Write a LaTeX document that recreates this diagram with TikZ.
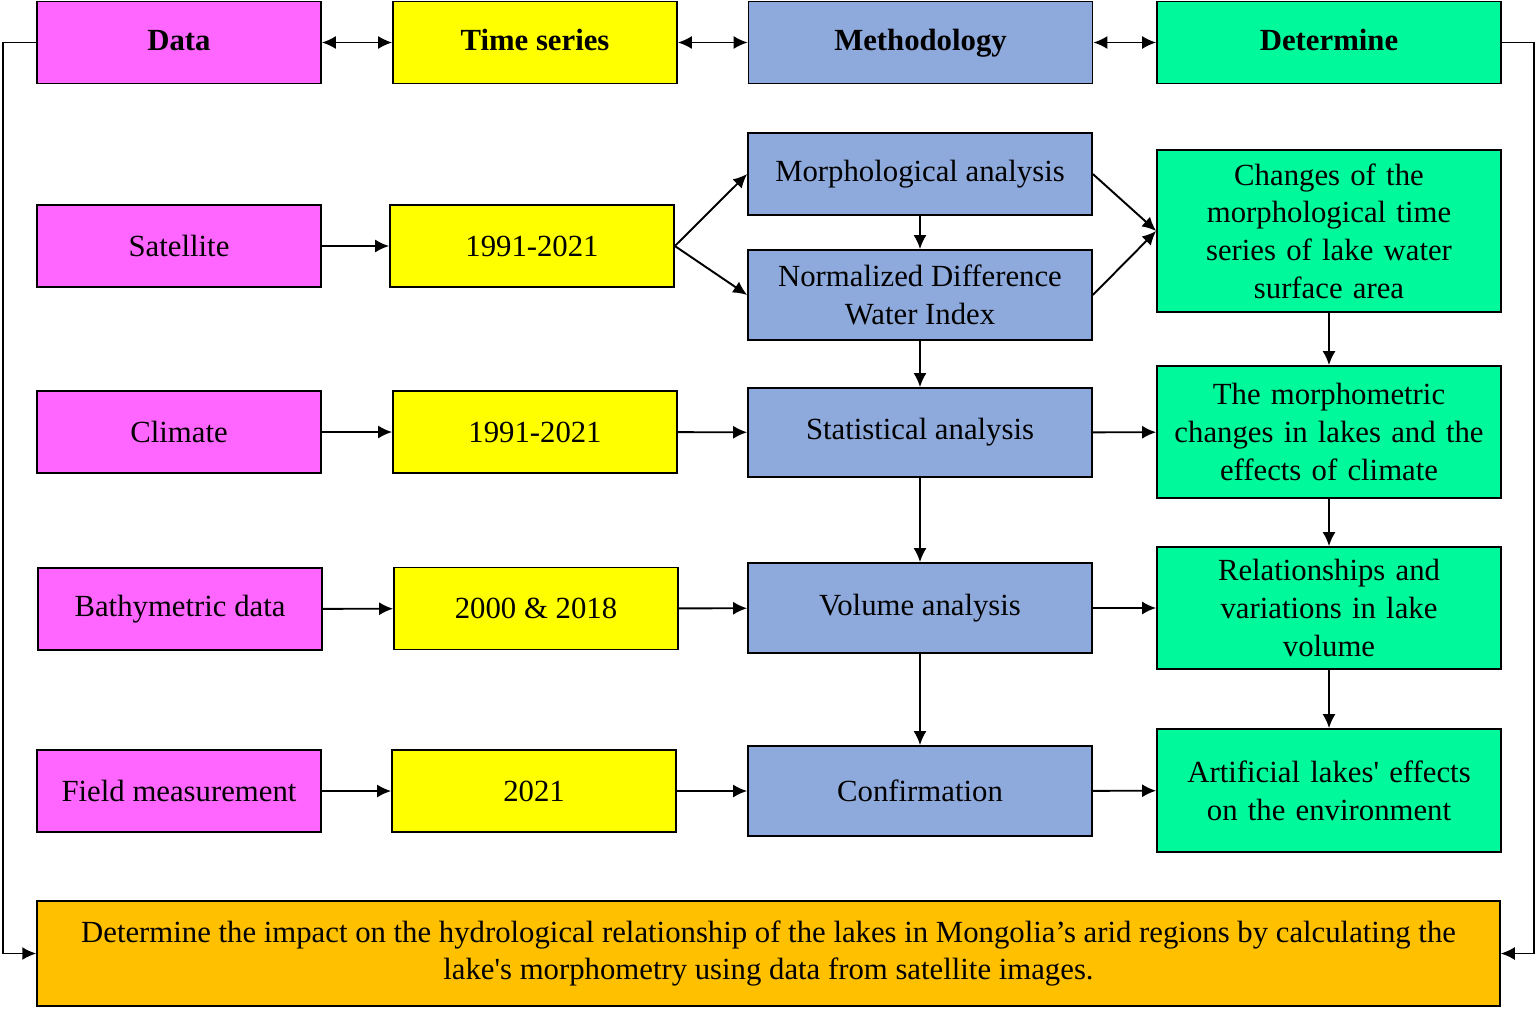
\documentclass[tikz,border=0pt]{standalone}
\usepackage{fontspec}
\setmainfont{Liberation Serif}
\usetikzlibrary{arrows.meta}

\definecolor{dataCol}{HTML}{FF66FF}
\definecolor{timeCol}{HTML}{FFFF00}
\definecolor{methCol}{HTML}{8EA9DB}
\definecolor{detCol}{HTML}{00F99B}
\definecolor{goalCol}{HTML}{FFC000}

\begin{document}
\begin{tikzpicture}[x=0.02cm, y=-0.02cm,
    box/.style={draw, line width=1pt, rectangle, inner sep=0pt, align=center,
        font=\fontsize{17.5}{21.5}\selectfont, minimum height=1.64cm},
    databox/.style={box, fill=dataCol, minimum width=5.68cm},
    timebox/.style={box, fill=timeCol, minimum width=5.68cm},
    methbox/.style={box, fill=methCol, minimum width=6.88cm},
    detbox/.style={box, fill=detCol, minimum width=6.88cm, text width=6.6cm},
    head/.style={font=\fontsize{17.5}{21.5}\selectfont\bfseries},
    arr/.style={-{Latex[length=2.8mm, width=2.6mm]}, line width=1.1pt},
    darr/.style={{Latex[length=2.8mm, width=2.6mm]}-{Latex[length=2.8mm, width=2.6mm]}, line width=1.1pt}
]
\useasboundingbox (0,0) rectangle (1537,1008);

% Header row
\node[databox, head] (Data) at (179,42.5) {\strut Data};
\node[timebox, head] (TimeSeries) at (535,42.5) {\strut Time series};
\node[methbox, head] (Methodology) at (920.5,42.5) {\strut Methodology};
\node[detbox, head] (Determine) at (1329,42.5) {\strut Determine};

% Satellite row
\node[databox] (Satellite) at (179,246) {Satellite};
\node[timebox] (SatYears) at (532,246) {1991-2021};
\node[methbox] (Morph) at (920,174) {Morphological analysis};
\node[methbox, minimum height=1.8cm] (NDWI) at (920,295) {Normalized Difference\\Water Index};
\node[detbox, minimum height=3.24cm] (Changes) at (1329,231) {Changes of the\\morphological time\\series of lake water\\surface area};

% Climate row
\node[databox] (Climate) at (179,432) {Climate};
\node[timebox] (ClimYears) at (535,432) {1991-2021};
\node[methbox, minimum height=1.78cm] (Stat) at (920,432.5) {Statistical analysis};
\node[detbox, minimum height=2.64cm] (Morphometric) at (1329,432) {The morphometric\\changes in lakes and the\\effects of climate};

% Bathymetric row
\node[databox] (Bathy) at (180,609) {Bathymetric data};
\node[timebox] (BathyYears) at (536,608.5) {2000 \& 2018};
\node[methbox, minimum height=1.8cm] (Volume) at (920,608) {Volume analysis};
\node[detbox, minimum height=2.44cm] (Relations) at (1329,608) {Relationships and\\variations in lake\\volume};

% Field row
\node[databox] (Field) at (179,791) {Field measurement};
\node[timebox] (FieldYear) at (534,791) {2021};
\node[methbox, minimum height=1.8cm] (Confirm) at (920,791) {Confirmation};
\node[detbox, minimum height=2.46cm] (Artificial) at (1329,790.5) {Artificial lakes\textquotesingle{} effects\\on the environment};

% Goal
\node[box, fill=goalCol, minimum width=29.26cm, minimum height=2.1cm] (Goal) at (768.5,953.5)
    {Determine the impact on the hydrological relationship of the lakes in Mongolia’s arid regions by calculating the\\lake\textquotesingle{}s morphometry using data from satellite images.};

% Header links
\draw[darr] (Data) -- (TimeSeries);
\draw[darr] (TimeSeries) -- (Methodology);
\draw[darr] (Methodology) -- (Determine);

% Row links
\draw[arr] (Satellite) -- (SatYears);
\draw[arr] (SatYears.east) -- (Morph.west);
\draw[arr] (SatYears.east) -- (NDWI.west);
\draw[arr] (Morph) -- (NDWI);
\draw[arr] (Morph.east) -- (Changes.west);
\draw[arr] (NDWI.east) -- (Changes.west);
\draw[arr] (NDWI) -- (Stat);
\draw[arr] (Climate) -- (ClimYears);
\draw[arr] (ClimYears) -- (Stat);
\draw[arr] (Stat) -- (Morphometric);
\draw[arr] (Stat) -- (Volume);
\draw[arr] (Bathy) -- (BathyYears);
\draw[arr] (BathyYears) -- (Volume);
\draw[arr] (Volume) -- (Relations);
\draw[arr] (Volume) -- (Confirm);
\draw[arr] (Field) -- (FieldYear);
\draw[arr] (FieldYear) -- (Confirm);
\draw[arr] (Confirm) -- (Artificial);
\draw[arr] (Changes) -- (Morphometric);
\draw[arr] (Morphometric) -- (Relations);
\draw[arr] (Relations) -- (Artificial);

% Feedback to goal
\draw[arr] (Data.west) -- ++(-33,0) |- (Goal.west);
\draw[arr] (Determine.east) -- ++(32,0) |- (Goal.east);
\end{tikzpicture}
\end{document}
